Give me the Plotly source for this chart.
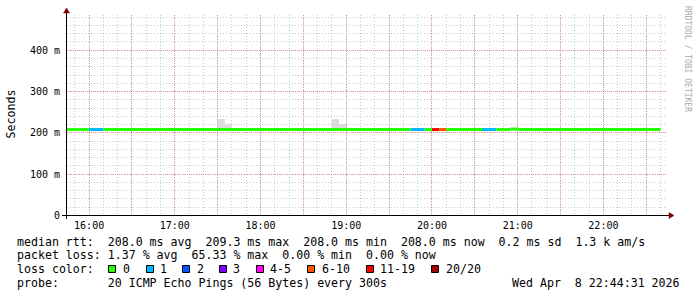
import plotly.graph_objects as go

DAY = "2026-04-08 "

# ---- data -----------------------------------------------------------------
# median RTT drawn as 5-minute steps (ms); loss = lost pings out of 20
seg_start  = ["15:40", "16:00", "16:10", "19:45", "19:55", "20:00", "20:05", "20:10", "20:35", "20:45", "20:55", "21:00"]
seg_end    = ["16:00", "16:10", "19:45", "19:55", "20:00", "20:05", "20:10", "20:35", "20:45", "20:55", "21:00", "22:40"]
seg_median = [208.0, 208.0, 208.0, 208.0, 208.0, 208.0, 208.0, 208.0, 208.0, 208.0, 209.3, 208.0]
seg_loss   = [0, 1, 0, 1, 0, 13, 7, 0, 1, 0, 0, 0]

# smoke (spread of the pings) in 5-minute steps
smoke_start = ["17:30", "17:35", "18:50", "18:55"]
smoke_low   = [208.0, 208.0, 208.0, 208.0]
smoke_high  = [233.5, 221.5, 233.5, 221.5]

loss_labels = ["0", "1", "2", "3", "4-5", "6-10", "11-19", "20/20"]
loss_upper  = [0, 1, 2, 3, 5, 10, 19, 20]
loss_colors = ["#26ff00", "#00b8ff", "#0059ff", "#7e00ff", "#ff00f4", "#ff5500", "#ff0000", "#a10000"]

y_tick_vals = [0, 100, 200, 300, 400]
y_tick_text = ["0", "100 m", "200 m", "300 m", "400 m"]
x_grid_major = ["16:00", "16:30", "17:00", "17:30", "18:00", "18:30", "19:00", "19:30",
                "20:00", "20:30", "21:00", "21:30", "22:00", "22:30"]

stat_rtt = "median rtt:  208.0 ms avg  209.3 ms max  208.0 ms min  208.0 ms now  0.2 ms sd  1.3 k am/s"
stat_loss = "packet loss: 1.37 % avg  65.33 % max  0.00 % min  0.00 % now"
probe_txt = "probe:       20 ICMP Echo Pings (56 Bytes) every 300s"
stamp_txt = "Wed Apr  8 22:44:31 2026"
x_start, x_end = "15:44:31", "22:44:31"

# ---- figure ----------------------------------------------------------------
MONO = "DejaVu Sans Mono"
L, R, T, B = 67, 30, 15, 81
W, H = 697, 297
PW, PH = W - L - R, H - T - B
MINOR = "rgba(150,150,150,0.5)"
MAJOR = "rgba(222,80,80,0.5)"
ARROW = "#7f0000"


def px_x(px):
    return (px - L) / PW


def px_y(py):
    return (H - B - py) / PH


def loss_class(n):
    for k, up in enumerate(loss_upper):
        if n <= up:
            return k
    return len(loss_upper) - 1


fig = go.Figure()

fig.add_trace(go.Bar(
    x=[DAY + s for s in smoke_start],
    y=[h - l for h, l in zip(smoke_high, smoke_low)],
    base=smoke_low, width=300000, offset=0,
    marker=dict(color="#dcdcdc", line=dict(width=0)),
    hoverinfo="skip", showlegend=False))

for k, col in enumerate(loss_colors):
    xs, ys = [], []
    for s, e, m, n in zip(seg_start, seg_end, seg_median, seg_loss):
        if loss_class(n) == k:
            xs += [DAY + s, DAY + e, None]
            ys += [m, m, None]
    if xs:
        fig.add_trace(go.Scatter(x=xs, y=ys, mode="lines",
                                 line=dict(color=col, width=3),
                                 hoverinfo="skip", showlegend=False))

tick_text_x = [t if t.endswith(":00") else "" for t in x_grid_major]

fig.update_xaxes(
    type="date", range=[DAY + x_start, DAY + x_end],
    tickvals=[DAY + t for t in x_grid_major], ticktext=tick_text_x,
    tickfont=dict(family=MONO, size=10, color="#000"),
    showgrid=True, gridcolor=MAJOR, griddash="1px,1px", gridwidth=1,
    minor=dict(dtick=600000, tick0=DAY + "00:00", showgrid=True,
               gridcolor=MINOR, griddash="1px,2px", gridwidth=1),
    showline=False, zeroline=False, ticks="", ticklabelstandoff=2)

fig.update_yaxes(
    range=[-1.21, 485.2], tickvals=y_tick_vals, ticktext=y_tick_text,
    tickfont=dict(family=MONO, size=10, color="#000"),
    showgrid=True, gridcolor=MAJOR, griddash="1px,1px", gridwidth=1,
    minor=dict(dtick=20, tick0=0, showgrid=True,
               gridcolor=MINOR, griddash="1px,2px", gridwidth=1),
    showline=False, zeroline=False, ticks="", ticklabelstandoff=6)

shapes = []
# axes with arrows
shapes.append(dict(type="line", xref="paper", yref="paper",
                   x0=px_x(62), x1=px_x(670), y0=px_y(215.5), y1=px_y(215.5),
                   line=dict(color="#000", width=1)))
shapes.append(dict(type="line", xref="paper", yref="paper",
                   x0=px_x(66.5), x1=px_x(66.5), y0=px_y(219), y1=px_y(11),
                   line=dict(color="#000", width=1)))
shapes.append(dict(type="path", xref="paper", yref="paper",
                   path=f"M{px_x(669)},{px_y(212.5)} L{px_x(674)},{px_y(215.5)} L{px_x(669)},{px_y(218.5)} Z",
                   fillcolor=ARROW, line=dict(color=ARROW, width=0.5)))
shapes.append(dict(type="path", xref="paper", yref="paper",
                   path=f"M{px_x(63.5)},{px_y(13)} L{px_x(66.5)},{px_y(8)} L{px_x(69.5)},{px_y(13)} Z",
                   fillcolor=ARROW, line=dict(color=ARROW, width=0.5)))

# legend swatches
box_left = [108, 146, 182, 219, 256, 307, 366, 431]
lab_left = [122.3, 159, 195.7, 232, 269, 320.7, 379, 445]
for bx, col in zip(box_left, loss_colors):
    shapes.append(dict(type="rect", xref="paper", yref="paper",
                       x0=px_x(bx + 0.5), x1=px_x(bx + 7.5),
                       y0=px_y(265.5), y1=px_y(272.5),
                       fillcolor=col, line=dict(color="#000", width=1)))
fig.update_layout(shapes=shapes)


def nb(s):
    return s.replace(" ", "\u00a0")


anns = []


def ann(text, px, py, size, xanchor="left", color="#000", angle=0):
    anns.append(dict(text=nb(text), x=px_x(px), y=px_y(py), xref="paper", yref="paper",
                     xanchor=xanchor, yanchor="middle", showarrow=False, borderpad=0,
                     textangle=angle, font=dict(family=MONO, size=size, color=color)))


LF = 11.6
ann(stat_rtt, 15.5, 241.5, LF)
ann(stat_loss, 15.5, 255.3, LF)
ann("loss color:", 15.5, 269.2, LF)
for lx, lab in zip(lab_left, loss_labels):
    ann(lab, lx, 269.2, LF)
ann(probe_txt, 15.5, 283.3, LF)
ann(stamp_txt, 681, 283.3, LF, xanchor="right")
ann("Seconds", 10.5, 114, LF, xanchor="center", angle=-90)
ann("RRDTOOL / TOBI OETIKER", 688, 59, 8, xanchor="center", color="#aaaaaa", angle=90)
fig.update_layout(annotations=anns)

fig.update_layout(
    width=W, height=H, margin=dict(l=L, r=R, t=T, b=B, pad=0),
    paper_bgcolor="#ffffff", plot_bgcolor="#ffffff",
    showlegend=False, bargap=0, barmode="overlay",
    font=dict(family=MONO, color="#000"))

fig.write_html("out.html", config={"displayModeBar": False})
